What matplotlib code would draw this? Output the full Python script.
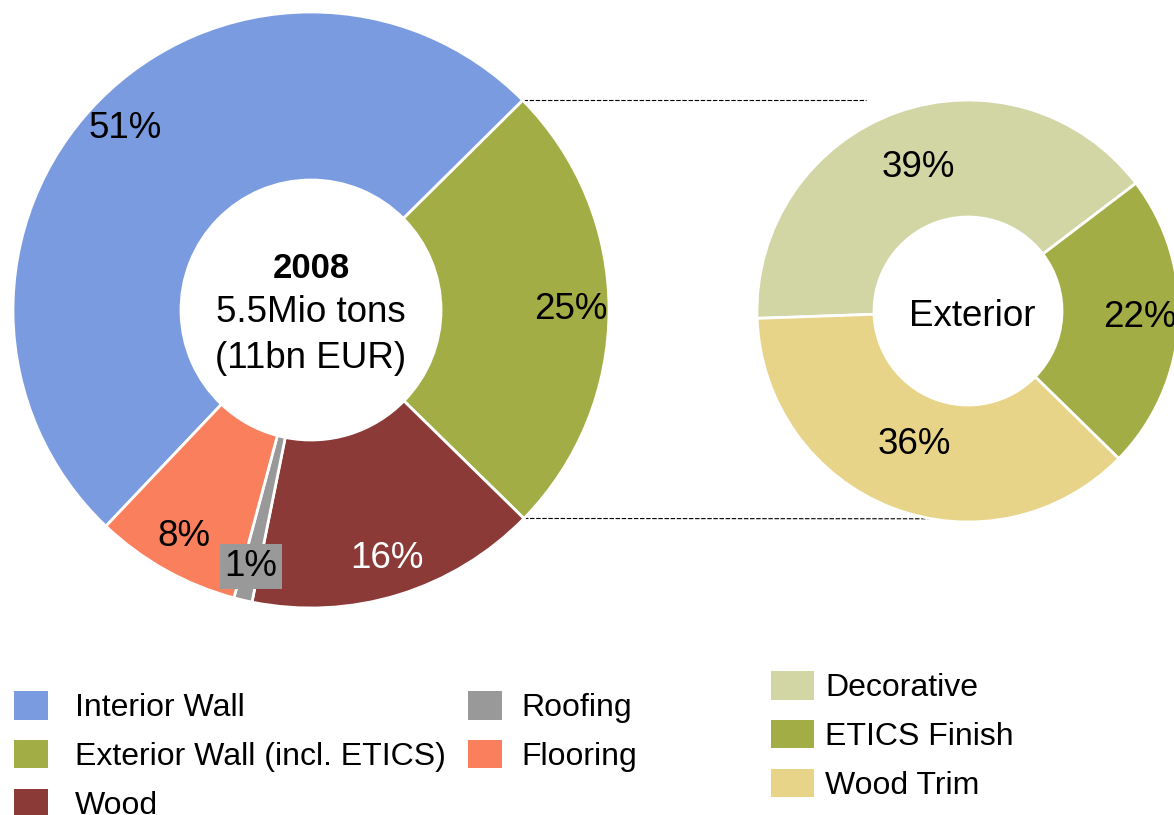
import matplotlib.pyplot as plt
import numpy as np

plt.rcParams['font.family'] = ['Liberation Sans', 'DejaVu Sans']

# data
main_labels = ['Interior Wall', 'Exterior Wall (incl. ETICS)', 'Wood', 'Roofing', 'Flooring']
main_values = [51, 25, 16, 1, 8]
main_colors = ['#7a9be0', '#a3ad45', '#8b3a37', '#999999', '#f97f5d']

ext_labels = ['Decorative', 'ETICS Finish', 'Wood Trim']
ext_values = [39, 22, 36]
ext_colors = ['#d1d6a4', '#a3ad45', '#e8d488']

W, H = 1174, 815
fig = plt.figure(figsize=(W / 100, H / 100), dpi=100)
ax = fig.add_axes([0, 0, 1, 1])

# left donut
c1, r1, hole1 = (311, 505), 298, 130
w1, _ = ax.pie(main_values, colors=main_colors, center=c1, radius=r1,
               startangle=226.5, counterclock=False,
               wedgeprops=dict(width=r1 - hole1, edgecolor='white', linewidth=2))

for w, v, col in zip(w1, main_values, main_colors):
    mid = np.deg2rad((w.theta1 + w.theta2) / 2)
    d = 0.885 if v == 1 else 0.872
    x = c1[0] + d * r1 * np.cos(mid)
    y = c1[1] + d * r1 * np.sin(mid)
    kw = dict(ha='center', va='center', fontsize=26.5)
    if col == '#8b3a37':
        kw['color'] = 'white'
    if v == 1:
        kw['bbox'] = dict(facecolor='#999999', edgecolor='none', pad=3.5)
    ax.text(x, y, f'{v}%', **kw)

ax.text(c1[0], c1[1] + 42, '2008', ha='center', va='center', fontsize=25, fontweight='bold')
ax.text(c1[0], c1[1] - 2, '5.5Mio tons', ha='center', va='center', fontsize=26.5)
ax.text(c1[0], c1[1] - 48, '(11bn EUR)', ha='center', va='center', fontsize=26.5)

# right donut
c2, r2, hole2 = (968, 504), 211, 94
w2, _ = ax.pie(ext_values, colors=ext_colors, center=c2, radius=r2,
               startangle=182, counterclock=False,
               wedgeprops=dict(width=r2 - hole2, edgecolor='white', linewidth=2))

for w, v, d in zip(w2, ext_values, [0.7, 0.815, 0.7]):
    mid = np.deg2rad((w.theta1 + w.theta2) / 2)
    ax.text(c2[0] + d * r2 * np.cos(mid), c2[1] + d * r2 * np.sin(mid) + 4, f'{v}%',
            ha='center', va='center', fontsize=26.5)
ax.text(c2[0] + 4, c2[1] - 5, 'Exterior', ha='center', va='center', fontsize=26.5)

# connector lines from the exterior wedge to the breakdown donut
ext = w1[1]
top, bot = max(ext.theta1, ext.theta2), min(ext.theta1, ext.theta2)
for ang, ang2 in [(top, 119), (bot, -100)]:
    x0 = c1[0] + r1 * np.cos(np.deg2rad(ang))
    y0 = c1[1] + r1 * np.sin(np.deg2rad(ang))
    x1 = c2[0] + r2 * np.cos(np.deg2rad(ang2))
    y1 = c2[1] + r2 * np.sin(np.deg2rad(ang2))
    if ang2 > 0:
        y1 = y0
    ax.plot([x0, x1], [y0, y1], color='black', lw=0.8, dashes=(4, 1.5), zorder=0)

# pie() resets the limits, so set them afterwards
ax.set_xlim(0, W)
ax.set_ylim(0, H)
ax.set_aspect('equal')
ax.axis('off')

# legends
leg_kw = dict(loc='upper left', bbox_transform=ax.transData, frameon=False, fontsize=23,
              handleheight=1.0, labelspacing=0.52, borderpad=0, borderaxespad=0)
leg1 = ax.legend(w1[:3], main_labels[:3], bbox_to_anchor=(14, H - 691),
                 handlelength=1.07, handletextpad=0.85, **leg_kw)
ax.add_artist(leg1)
leg1b = ax.legend(w1[3:], main_labels[3:], bbox_to_anchor=(468, H - 691),
                  handlelength=1.07, handletextpad=0.6, **leg_kw)
ax.add_artist(leg1b)
leg2 = ax.legend(w2, ext_labels, bbox_to_anchor=(771, H - 671),
                 handlelength=1.35, handletextpad=0.35, **leg_kw)
for lg in (leg1, leg1b, leg2):
    for h in lg.legend_handles:
        h.set_edgecolor('none')

fig.savefig('out.png', dpi=100)
